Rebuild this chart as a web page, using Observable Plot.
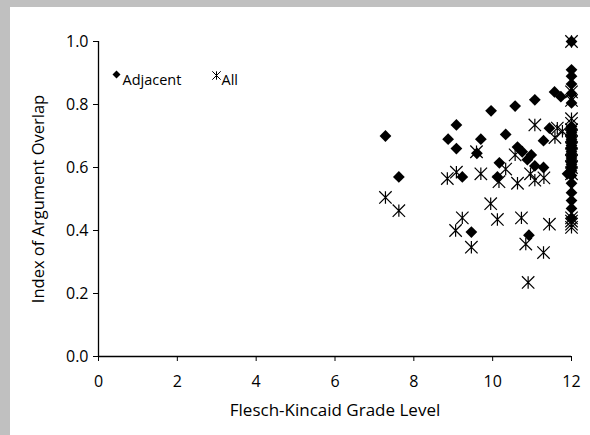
<!DOCTYPE html>
<html>
<head>
<meta charset="utf-8">
<script src="https://cdn.jsdelivr.net/npm/d3@7"></script>
<script src="https://cdn.jsdelivr.net/npm/@observablehq/plot@0.6"></script>
<style>
  html, body { margin: 0; padding: 0; background: #c0c0c0; width: 590px; height: 435px; overflow: hidden; }
  #chart { position: absolute; left: 10px; top: 7px; width: 580px; height: 428px; background: white; }
</style>
</head>
<body>
<div id="chart"></div>
<script>
// Data
const adjacentX = [7.28, 7.62, 8.87, 9.08, 9.08, 9.23, 9.46, 9.60, 9.70, 9.96, 10.12, 10.17, 10.33, 10.57, 10.63, 10.75, 10.88, 10.92, 10.98, 11.07, 11.07, 11.29, 11.29, 11.44, 11.57, 11.73, 11.9,
  12, 12, 12, 12, 12, 12, 12, 12, 12, 12, 12, 12, 12, 12, 12, 12, 12, 12, 12, 12, 12, 12, 12, 12, 12, 12, 12];
const adjacentY = [0.70, 0.57, 0.69, 0.735, 0.66, 0.57, 0.395, 0.645, 0.69, 0.78, 0.57, 0.615, 0.705, 0.795, 0.665, 0.65, 0.625, 0.385, 0.64, 0.815, 0.605, 0.60, 0.685, 0.725, 0.84, 0.825, 0.58,
  1.0, 0.91, 0.89, 0.865, 0.835, 0.805, 0.73, 0.72, 0.71, 0.70, 0.69, 0.68, 0.67, 0.66, 0.65, 0.64, 0.63, 0.62, 0.61, 0.60, 0.59, 0.575, 0.55, 0.52, 0.495, 0.47, 0.44];
const allX = [7.28, 7.62, 8.85, 9.06, 9.08, 9.23, 9.46, 9.59, 9.70, 9.95, 10.12, 10.16, 10.33, 10.57, 10.63, 10.73, 10.84, 10.9, 10.96, 11.07, 11.07, 11.30, 11.29, 11.44, 11.58, 11.64, 11.77,
  12, 12, 12, 12, 12, 12, 12, 12, 12, 12, 12, 12, 12, 12, 12, 12, 12];
const allY = [0.505, 0.463, 0.565, 0.40, 0.585, 0.44, 0.347, 0.65, 0.58, 0.485, 0.435, 0.555, 0.595, 0.64, 0.55, 0.44, 0.357, 0.235, 0.58, 0.56, 0.735, 0.567, 0.33, 0.42, 0.695, 0.725, 0.715,
  1.0, 0.84, 0.813, 0.755, 0.74, 0.72, 0.70, 0.68, 0.66, 0.64, 0.62, 0.60, 0.58, 0.44, 0.43, 0.42, 0.41];
const xTicks = [0, 2, 4, 6, 8, 10, 12];
const yTicks = [0, 0.2, 0.4, 0.6, 0.8, 1.0];
const seriesNames = ["Adjacent", "All"];
const xTitle = "Flesch-Kincaid Grade Level";
const yTitle = "Index of Argument Overlap";

const adjacent = adjacentX.map((x, i) => ({x, y: adjacentY[i]}));
const all = allX.map((x, i) => ({x, y: allY[i]}));

const star = {
  draw(ctx, size) {
    const h = Math.sqrt(size) * 0.7;
    ctx.moveTo(-h, -h); ctx.lineTo(h, h);
    ctx.moveTo(-h, h); ctx.lineTo(h, -h);
    ctx.moveTo(0, -h); ctx.lineTo(0, h);
  }
};

const font = "'Open Sans', sans-serif";

const chart = Plot.plot({
  width: 580,
  height: 428,
  marginLeft: 88,
  marginRight: 19,
  marginTop: 34,
  marginBottom: 79,
  style: {fontFamily: font, fontSize: "16px", background: "white", color: "black"},
  x: {domain: [0, 12]},
  y: {domain: [0, 1]},
  marks: [
    Plot.ruleX([0], {stroke: "black", strokeWidth: 1.3}),
    Plot.ruleY([0], {stroke: "black", strokeWidth: 1.3}),
    Plot.axisY({ticks: yTicks, tickFormat: d3.format(".1f"), tickSize: 5, tickPadding: 5, label: null, stroke: "black", fontSize: 16}),
    Plot.axisX({ticks: xTicks, tickFormat: d3.format("d"), tickSize: 5, tickPadding: 14, label: null, stroke: "black", fontSize: 16}),
    Plot.text([yTitle], {frameAnchor: "left", dx: -60, rotate: -90, textAnchor: "middle", lineAnchor: "middle", fontSize: 16.5, fill: "black"}),
    Plot.text([xTitle], {frameAnchor: "bottom", dy: 54, textAnchor: "middle", lineAnchor: "middle", fontSize: 17, fill: "black"}),
    Plot.dot(adjacent, {x: "x", y: "y", symbol: "diamond2", r: 5.3, fill: "black", stroke: "none"}),
    Plot.dot(all, {x: "x", y: "y", symbol: star, r: 5, fill: "none", stroke: "black", strokeWidth: 1.2}),
    // legend
    Plot.dot([seriesNames[0]], {frameAnchor: "top-left", dx: 18, dy: 33, symbol: "diamond2", r: 3.6, fill: "black", stroke: "none"}),
    Plot.text([seriesNames[0]], {frameAnchor: "top-left", dx: 24, dy: 43, textAnchor: "start", lineAnchor: "bottom", fontSize: 14.5, fill: "black"}),
    Plot.dot([seriesNames[1]], {frameAnchor: "top-left", dx: 118, dy: 34, symbol: star, r: 3.4, fill: "none", stroke: "black", strokeWidth: 1}),
    Plot.text([seriesNames[1]], {frameAnchor: "top-left", dx: 123, dy: 43, textAnchor: "start", lineAnchor: "bottom", fontSize: 14.5, fill: "black"})
  ]
});
document.getElementById("chart").appendChild(chart);
</script>
</body>
</html>
